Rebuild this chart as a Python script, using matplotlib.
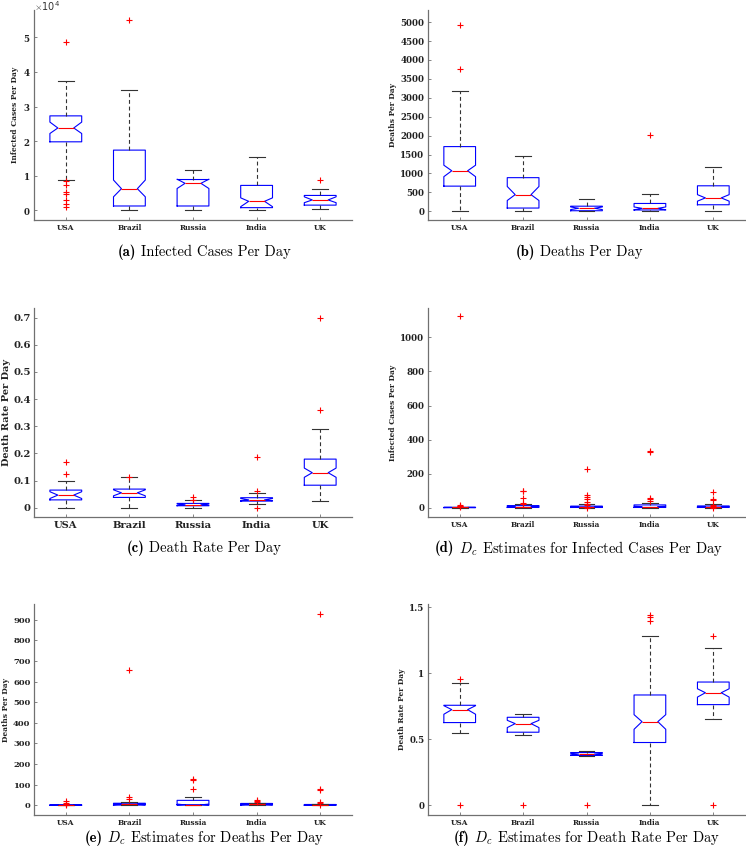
import matplotlib
matplotlib.use('Agg')
import matplotlib.pyplot as plt
from matplotlib.ticker import FuncFormatter

plt.rcParams['mathtext.fontset'] = 'cm'
plt.rcParams['axes.formatter.use_mathtext'] = True

countries = ['USA', 'Brazil', 'Russia', 'India', 'UK']

# (a) Infected cases per day
cases_q1 = [19800, 1250, 1250, 770, 1500]
cases_med = [23800, 6250, 7800, 2600, 3000]
cases_q3 = [27300, 17400, 8900, 7200, 4300]
cases_cilo = [22200, 3900, 6300, 1050, 2200]
cases_cihi = [25500, 8750, 9000, 3600, 3900]
cases_lo = [8750, 0, 0, 0, 300]
cases_hi = [37400, 34900, 11600, 15500, 6250]
cases_fliers = [[48700, 8500, 7200, 5400, 4800, 3000, 1800, 900], [54900], [], [], [8750]]

# (b) Deaths per day
deaths_q1 = [665, 86, 15, 35, 173]
deaths_med = [1071, 440, 80, 78, 354]
deaths_q3 = [1710, 889, 135, 207, 674]
deaths_cilo = [915, 285, 45, 40, 268]
deaths_cihi = [1218, 656, 115, 115, 440]
deaths_lo = [0, 0, 0, 0, 17]
deaths_hi = [3178, 1468, 320, 458, 1174]
deaths_fliers = [[4931, 3765], [], [], [2012], []]

# (c) Death rate per day
rate_q1 = [0.029, 0.038, 0.0074, 0.0245, 0.083]
rate_med = [0.0466, 0.055, 0.011, 0.029, 0.129]
rate_q3 = [0.065, 0.0687, 0.016, 0.037, 0.179]
rate_cilo = [0.034, 0.044, 0.0085, 0.026, 0.112]
rate_cihi = [0.059, 0.066, 0.014, 0.034, 0.146]
rate_lo = [0.0, 0.0, 0.0, 0.0135, 0.0245]
rate_hi = [0.099, 0.112, 0.027, 0.055, 0.288]
rate_fliers = [[0.167, 0.124], [0.113], [0.041, 0.030], [0.185, 0.060, 0.0], [0.70, 0.358]]

# (d) Dc estimates for infected cases per day
dcases_q1 = [0, 1, 1, 1, 1]
dcases_med = [1, 5, 4, 6, 4]
dcases_q3 = [2, 12, 9, 16, 10]
dcases_cilo = [0.5, 3, 2.5, 4, 2.5]
dcases_cihi = [1.5, 7, 5.5, 8, 5.5]
dcases_lo = [0, 0, 0, 0, 0]
dcases_hi = [4, 24, 20, 30, 20]
dcases_fliers = [[1124, 18, 12, 8, 4], [100, 95, 56, 27, 20], [228, 74, 63, 48, 31, 24, 14, 0],
                 [333, 329, 56, 50, 41], [94, 51, 47, 14, 8, 0]]

# (e) Dc estimates for deaths per day
ddeaths_q1 = [0, 1, 3, 1, 0]
ddeaths_med = [1, 5, 2, 5, 2]
ddeaths_q3 = [2, 10, 24, 9, 4]
ddeaths_cilo = [0.5, 3, 0.5, 3, 1]
ddeaths_cihi = [1.5, 7, 6, 7, 3]
ddeaths_lo = [0, 0, 0, 0, 0]
ddeaths_hi = [3, 15, 41, 12, 6]
ddeaths_fliers = [[21, 13, 6, 2], [655, 39, 29], [127, 122, 81], [26, 20, 16], [928, 78, 75, 15, 10, 3]]

# (f) Dc estimates for death rate per day
drate_q1 = [0.627, 0.554, 0.378, 0.476, 0.763]
drate_med = [0.725, 0.619, 0.388, 0.634, 0.853]
drate_q3 = [0.758, 0.667, 0.400, 0.836, 0.934]
drate_cilo = [0.690, 0.589, 0.382, 0.576, 0.820]
drate_cihi = [0.755, 0.644, 0.394, 0.687, 0.883]
drate_lo = [0.551, 0.531, 0.372, 0.0, 0.652]
drate_hi = [0.926, 0.695, 0.413, 1.286, 1.188]
drate_fliers = [[0.956, 0.0], [0.0], [0.0], [1.44, 1.425, 1.394], [1.286, 0.0]]


def make_stats(q1, med, q3, cilo, cihi, lo, hi, fliers):
    stats = []
    for i in range(len(countries)):
        stats.append(dict(label=countries[i], q1=q1[i], med=med[i], q3=q3[i],
                          cilo=cilo[i], cihi=cihi[i], whislo=lo[i], whishi=hi[i],
                          fliers=fliers[i]))
    return stats


fig = plt.figure(figsize=(7.46, 8.5), dpi=100)

W, H = 746.0, 850.0
col_x = [34, 428]
col_w = [318, 317]
row_y = [(10, 220), (308, 517), (604, 815)]

# row, col, stats, ylabel, ylim, yticks, tag, caption, caption x, caption y, xtick size, ytick size
panels = [
    (0, 0, make_stats(cases_q1, cases_med, cases_q3, cases_cilo, cases_cihi, cases_lo, cases_hi, cases_fliers),
     'Infected Cases Per Day', (-2800, 57900), [0, 10000, 20000, 30000, 40000, 50000],
     '(a)', 'Infected Cases Per Day', 204, 252, 5.3, 6.2),
    (0, 1, make_stats(deaths_q1, deaths_med, deaths_q3, deaths_cilo, deaths_cihi, deaths_lo, deaths_hi, deaths_fliers),
     'Deaths Per Day', (-230, 5320), list(range(0, 5001, 500)),
     '(b)', 'Deaths Per Day', 579, 252, 5.3, 6.2),
    (1, 0, make_stats(rate_q1, rate_med, rate_q3, rate_cilo, rate_cihi, rate_lo, rate_hi, rate_fliers),
     'Death Rate Per Day', (-0.034, 0.735), [0, 0.1, 0.2, 0.3, 0.4, 0.5, 0.6, 0.7],
     '(c)', 'Death Rate Per Day', 204, 548, 7.2, 7.2),
    (1, 1, make_stats(dcases_q1, dcases_med, dcases_q3, dcases_cilo, dcases_cihi, dcases_lo, dcases_hi, dcases_fliers),
     'Infected Cases Per Day', (-55, 1173), [0, 200, 400, 600, 800, 1000],
     '(d)', r'$D_c$ Estimates for Infected Cases Per Day', 579, 548, 5.3, 6.2),
    (2, 0, make_stats(ddeaths_q1, ddeaths_med, ddeaths_q3, ddeaths_cilo, ddeaths_cihi, ddeaths_lo, ddeaths_hi, ddeaths_fliers),
     'Deaths Per Day', (-47, 976), list(range(0, 901, 100)),
     '(e)', r'$D_c$ Estimates for Deaths Per Day', 204, 838, 5.3, 6.0),
    (2, 1, make_stats(drate_q1, drate_med, drate_q3, drate_cilo, drate_cihi, drate_lo, drate_hi, drate_fliers),
     'Death Rate Per Day', (-0.073, 1.525), [0, 0.5, 1, 1.5],
     '(f)', r'$D_c$ Estimates for Death Rate Per Day', 587, 838, 5.3, 6.2),
]

spine_col = '#707070'
captions = []
for row, col, stats, ylab, ylim, yticks, tag, caption, cx, cy, xfs, yfs in panels:
    top, bottom = row_y[row]
    ax = fig.add_axes([col_x[col] / W, 1 - bottom / H, col_w[col] / W, (bottom - top) / H])
    ax.bxp(stats, positions=[1, 2, 3, 4, 5], widths=0.5, shownotches=True,
           boxprops=dict(color='blue', lw=0.8),
           medianprops=dict(color='red', lw=0.8),
           whiskerprops=dict(color='#333333', lw=0.8, linestyle=(0, (3.5, 2.5))),
           capprops=dict(color='#333333', lw=0.8),
           flierprops=dict(marker='+', markeredgecolor='red', markerfacecolor='none',
                           markersize=4, markeredgewidth=0.8, linestyle='none'))
    ax.set_xlim(0.5, 5.5)
    ax.set_ylim(*ylim)
    ax.set_yticks(yticks)
    ax.set_xticks([1, 2, 3, 4, 5])
    ax.set_xticklabels(countries)
    for s in ['top', 'right']:
        ax.spines[s].set_visible(False)
    for s in ['left', 'bottom']:
        ax.spines[s].set_color(spine_col)
        ax.spines[s].set_linewidth(0.9)
    ax.tick_params(direction='in', length=2, width=0.6, color=spine_col, pad=3)
    ax.tick_params(axis='x', labelsize=xfs)
    ax.tick_params(axis='y', labelsize=yfs, pad=2.5)
    for lbl in ax.get_xticklabels() + ax.get_yticklabels():
        lbl.set_fontfamily('DejaVu Serif')
        lbl.set_fontweight('bold')
        lbl.set_color('#222222')
    if row == 0 and col == 0:
        ax.ticklabel_format(style='sci', axis='y', scilimits=(4, 4))
        off = ax.yaxis.get_offset_text()
        off.set_fontsize(7)
        off.set_color('#333333')
        off.set_verticalalignment('center')
    else:
        ax.yaxis.set_major_formatter(FuncFormatter(lambda v, p: '%g' % v))
    big = (row == 1 and col == 0)
    ax.set_ylabel(ylab, fontfamily='DejaVu Serif', fontweight='bold',
                  fontsize=7.0 if big else 5.4,
                  color='#222222', labelpad=1.5 if big else 2.5)
    t1 = fig.text(cx / W, 1 - cy / H, tag, ha='left', va='center',
                  fontfamily='cmb10', fontsize=10.5)
    t2 = fig.text(cx / W, 1 - cy / H, ' ' + caption, ha='left', va='center',
                  fontfamily='cmr10', fontsize=10.5)
    captions.append((t1, t2, cx))

# centre each caption (bold tag + plain text) on its panel
fig.canvas.draw()
r = fig.canvas.get_renderer()
for t1, t2, cx in captions:
    w1 = t1.get_window_extent(r).width
    w2 = t2.get_window_extent(r).width
    x0 = cx - (w1 + w2) / 2.0
    t1.set_x(x0 / W)
    t2.set_x((x0 + w1) / W)

fig.savefig('out.png', dpi=100)
